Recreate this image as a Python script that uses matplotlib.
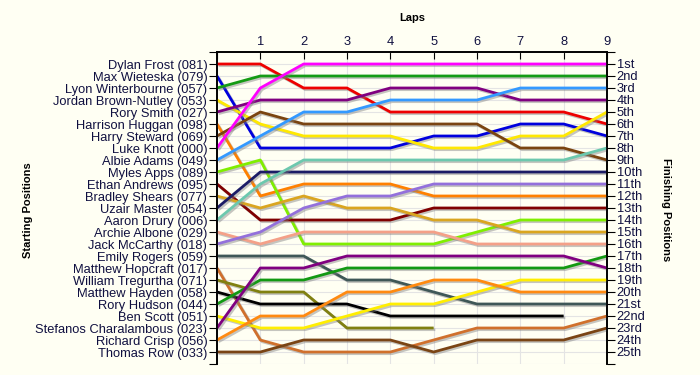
import matplotlib
matplotlib.use("Agg")
import matplotlib.pyplot as plt
import matplotlib.patheffects as pe

plt.rcParams["font.family"] = ["Liberation Sans", "DejaVu Sans"]

drivers = ["Dylan Frost (081)", "Max Wieteska (079)", "Lyon Winterbourne (057)",
           "Jordan Brown-Nutley (053)", "Rory Smith (027)", "Harrison Huggan (098)",
           "Harry Steward (069)", "Luke Knott (000)", "Albie Adams (049)",
           "Myles Apps (089)", "Ethan Andrews (095)", "Bradley Shears (077)",
           "Uzair Master (054)", "Aaron Drury (006)", "Archie Albone (029)",
           "Jack McCarthy (018)", "Emily Rogers (059)", "Matthew Hopcraft (017)",
           "William Tregurtha (071)", "Matthew Hayden (058)", "Rory Hudson (044)",
           "Ben Scott (051)", "Stefanos Charalambous (023)", "Richard Crisp (056)",
           "Thomas Row (033)"]

laps = list(range(10))
N = None
# positions at lap 0..9 for each driver (None = retired)
positions = [
    [1, 1, 3, 3, 5, 5, 5, 5, 5, 6],
    [2, 8, 8, 8, 8, 7, 7, 6, 6, 7],
    [3, 2, 2, 2, 2, 2, 2, 2, 2, 2],
    [4, 6, 7, 7, 7, 8, 8, 7, 7, 5],
    [5, 4, 4, 4, 3, 3, 3, 4, 4, 4],
    [6, 12, 11, 11, 11, 12, 12, 12, 12, 12],
    [7, 5, 6, 6, 6, 6, 6, 8, 8, 9],
    [8, 3, 1, 1, 1, 1, 1, 1, 1, 1],
    [9, 7, 5, 5, 4, 4, 4, 3, 3, 3],
    [10, 9, 16, 16, 16, 16, 15, 14, 14, 14],
    [11, 14, 14, 14, 14, 13, 13, 13, 13, 13],
    [12, 13, 12, 13, 13, 14, 14, 15, 15, 15],
    [13, 10, 10, 10, 10, 10, 10, 10, 10, 10],
    [14, 11, 9, 9, 9, 9, 9, 9, 9, 8],
    [15, 16, 15, 15, 15, 15, 16, 16, 16, 16],
    [16, 15, 13, 12, 12, 11, 11, 11, 11, 11],
    [17, 17, 17, 19, 19, 20, 21, 21, 21, 21],
    [18, 24, 25, 25, 25, 24, 23, 23, 23, 22],
    [19, 20, 20, 23, 23, 23, N, N, N, N],
    [20, 21, 21, 21, 22, 22, 22, 22, 22, N],
    [21, 19, 19, 18, 18, 18, 18, 18, 18, 17],
    [22, 23, 23, 22, 21, 21, 20, 19, 19, 19],
    [23, 18, 18, 17, 17, 17, 17, 17, 17, 18],
    [24, 22, 22, 20, 20, 19, 19, 20, 20, 20],
    [25, 25, 24, 24, 24, 25, 24, 24, 24, 23],
]
colors = ["#EE0000", "#0000DD", "#149B14", "#FFE800", "#800080", "#FF8000",
          "#7A4410", "#FF00FF", "#3399FF", "#80EE00", "#800000", "#DAA520",
          "#1C1C66", "#6CC8AE", "#F4A088", "#9370DB", "#3F5757", "#D0702C",
          "#808010", "#000000", "#129912", "#FFEE00", "#800080", "#FF8A10",
          "#7A4414"]
finish_labels = ["1st", "2nd", "3rd"] + [f"{i}th" for i in range(4, 21)] + \
                ["21st", "22nd", "23rd", "24th", "25th"]

bg = "#FFFFF3"
txtc = "#101040"
fig = plt.figure(figsize=(7, 3.75), dpi=100, facecolor=bg)
ax = fig.add_axes([217/700, 1-364/375, 390/700, 312/375])
ax.set_facecolor(bg)

for pos, c in zip(positions, colors):
    xs = [l for l, p in zip(laps, pos) if p is not None]
    ys = [p for p in pos if p is not None]
    ax.plot(xs, ys, color=c, lw=2.0, solid_capstyle="butt", zorder=3,
            path_effects=[pe.SimpleLineShadow(offset=(1.2, -1.2), shadow_color="gray", alpha=0.45),
                          pe.Normal()])

ax.set_xlim(0, 9)
ax.set_ylim(26, 0)
ax.set_xticks(laps)
ax.set_xticklabels([""] + [str(l) for l in laps[1:]])
ax.xaxis.tick_top()
ax.tick_params(axis="x", direction="in", length=5, labelsize=9.3, labelcolor=txtc, pad=3)
ax.set_yticks(range(0, 27))
ax.set_yticklabels([""] + drivers + [""])
ax.tick_params(axis="y", direction="out", length=6, labelsize=9.3, labelcolor=txtc, pad=1)
ax.grid(True, color="#E4E4E4", lw=0.8, zorder=0)
ax.set_axisbelow(True)
ax.spines["bottom"].set_visible(False)
for s in ["left", "right", "top"]:
    ax.spines[s].set_linewidth(1.2)

ax2 = ax.twinx()
ax2.set_ylim(26, 0)
ax2.set_yticks(range(0, 27))
ax2.set_yticklabels([""] + finish_labels + [""])
ax2.tick_params(axis="y", direction="out", length=6, labelsize=9.3, labelcolor=txtc, pad=1)
ax2.tick_params(axis="x", bottom=False, top=False, labelbottom=False, labeltop=False)
ax2.spines["bottom"].set_visible(False)
for s in ["left", "right", "top"]:
    ax2.spines[s].set_linewidth(1.2)

fig.text(412/700, 1-18/375, "Laps", ha="center", va="center", fontsize=8, fontweight="bold")
fig.text(28/700, 1-210/375, "Starting Positions", ha="center", va="center",
         rotation=90, fontsize=8, fontweight="bold")
fig.text(666/700, 1-210/375, "Finishing Positions", ha="center", va="center",
         rotation=-90, fontsize=8, fontweight="bold")

fig.savefig("out.png", dpi=100, facecolor=bg)
